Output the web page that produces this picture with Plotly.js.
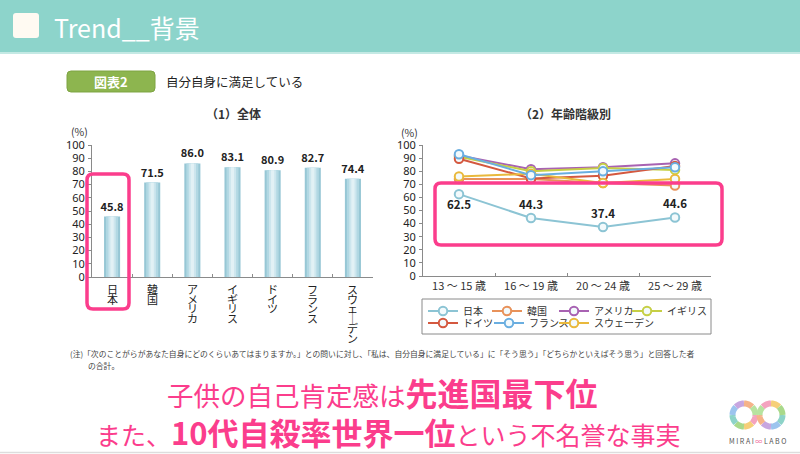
<!DOCTYPE html>
<html><head><meta charset="utf-8">
<script src="https://cdn.plot.ly/plotly-3.0.1.min.js"></script>
<style>html,body{margin:0;padding:0;background:#fff;overflow:hidden}</style>
</head><body><div id="chart" style="width:800px;height:454px"></div>
<script>
// ---- data ----
const countries = ['日本','韓国','アメリカ','イギリス','ドイツ','フランス','スウェーデン'];
const overallValues = [45.8, 71.5, 86.0, 83.1, 80.9, 82.7, 74.4];
const ageGroups = ['13 〜 15 歳','16 〜 19 歳','20 〜 24 歳','25 〜 29 歳'];
const japanByAge   = [62.5, 44.3, 37.4, 44.6];
const koreaByAge   = [74, 74, 71, 69];
const usaByAge     = [92, 81.5, 83, 86];
const ukByAge      = [91, 80, 82.5, 81];
const germanyByAge = [89.5, 74.5, 76.5, 84];
const franceByAge  = [93, 77, 80, 83];
const swedenByAge  = [76, 78, 71, 74];
const yTicks = [0,10,20,30,40,50,60,70,80,90,100];

// ---- helpers (pixel -> paper) ----
const W = 800, H = 454;
const px = x => x / W;
const py = y => 1 - y / H;
const P = (x, y) => px(x).toFixed(5) + ',' + py(y).toFixed(5);
function roundRect(x0, y0, x1, y1, r) {
  return `M${P(x0+r,y0)} L${P(x1-r,y0)} Q${P(x1,y0)} ${P(x1,y0+r)} L${P(x1,y1-r)} Q${P(x1,y1)} ${P(x1-r,y1)} L${P(x0+r,y1)} Q${P(x0,y1)} ${P(x0,y1-r)} L${P(x0,y0+r)} Q${P(x0,y0)} ${P(x0+r,y0)} Z`;
}
const FONT = '"Noto Sans CJK JP", "Noto Sans", sans-serif';
const PINK = '#fb3d8c';

// ---- traces ----
const traces = [];
// bars with a pseudo-gradient (overlaid narrower lighter bars)
const barLayers = [
  {w: 0.40, c: '#97c7d5', text: true},
  {w: 0.30, c: '#b2d8e3'},
  {w: 0.18, c: '#cde6ee'},
  {w: 0.08, c: '#e2f1f5'}
];
barLayers.forEach(l => {
  traces.push({
    type: 'bar', x: countries, y: overallValues, width: l.w,
    xaxis: 'x', yaxis: 'y',
    marker: {color: l.c, line: {width: 0}},
    showlegend: false, hoverinfo: 'skip',
    texttemplate: l.text ? '<b>%{y:.1f}</b>' : '',
    textposition: l.text ? 'outside' : 'none',
    constraintext: 'none',
    textfont: {family: FONT, size: 11, color: '#222'},
    cliponaxis: false
  });
});

const series = [
  {name: '韓国', v: koreaByAge, c: '#e8925a', legend: 'legend', lw: 22, rank: 2},
  {name: 'アメリカ', v: usaByAge, c: '#a862b2', legend: 'legend', lw: 28, rank: 3},
  {name: 'イギリス', v: ukByAge, c: '#c6cf45', legend: 'legend', lw: 40, rank: 4},
  {name: 'ドイツ', v: germanyByAge, c: '#d4583f', legend: 'legend2', lw: 21, rank: 5},
  {name: 'スウェーデン', v: swedenByAge, c: '#e9b93c', legend: 'legend2', lw: 60, rank: 7},
  {name: 'フランス', v: franceByAge, c: '#6aaee0', legend: 'legend2', lw: 20, rank: 6},
  {name: '日本', v: japanByAge, c: '#8cc4d4', legend: 'legend', lw: 19, rank: 1, labels: true}
];
series.forEach(s => {
  traces.push({
    type: 'scatter', mode: s.labels ? 'lines+markers+text' : 'lines+markers',
    x: ageGroups, y: s.v, name: s.name, xaxis: 'x2', yaxis: 'y2',
    legend: s.legend, legendrank: s.rank, legendwidth: s.lw,
    line: {color: s.c, width: 2},
    marker: {symbol: 'circle', size: 8.5, color: '#f3fafc', line: {color: s.c, width: 2}},
    text: s.labels ? s.v.map(v => '<b>' + v.toFixed(1) + '</b>') : undefined,
    textposition: s.labels ? ['bottom center','top center','top center','top center'] : undefined,
    textfont: {family: FONT, size: 11.5, color: '#222'},
    hoverinfo: 'skip', cliponaxis: false
  });
});

// ---- shapes ----
const shapes = [
  {type: 'rect', xref: 'paper', yref: 'paper', x0: 0, x1: 1, y0: py(52), y1: 1, fillcolor: '#8dd4cb', line: {width: 0}, layer: 'below'},
  {type: 'rect', xref: 'paper', yref: 'paper', x0: 0, x1: 1, y0: py(54), y1: py(52), fillcolor: '#c4e9e4', line: {width: 0}, layer: 'below'},
  {type: 'path', xref: 'paper', yref: 'paper', path: roundRect(13, 13, 39, 38, 3), fillcolor: '#fffaf2', line: {width: 0}, layer: 'below'},
  {type: 'path', xref: 'paper', yref: 'paper', path: roundRect(67, 71, 155, 92, 4), fillcolor: '#8db54f', line: {color: '#7ea443', width: 1}, layer: 'below'},
  {type: 'rect', xref: 'paper', yref: 'paper', x0: px(422), x1: px(711), y0: py(334), y1: py(299), line: {color: '#8a8a8a', width: 1}, fillcolor: 'rgba(0,0,0,0)', layer: 'below'},
  {type: 'path', xref: 'paper', yref: 'paper', path: roundRect(87, 174, 129, 309, 6), line: {color: PINK, width: 3.5}, fillcolor: 'rgba(0,0,0,0)', layer: 'above'},
  {type: 'path', xref: 'paper', yref: 'paper', path: roundRect(435, 183, 722, 245, 6), line: {color: PINK, width: 3.5}, fillcolor: 'rgba(0,0,0,0)', layer: 'above'},
  {type: 'line', xref: 'paper', yref: 'paper', x0: 0, x1: 1, y0: py(452.5), y1: py(452.5), line: {color: '#dddddd', width: 1.5}}
];
// logo loops
const pastel = ['#f4a3bf','#f6cf78','#a9d98b','#8dd3c8','#9cc4ee','#c7a6e0','#f5b389','#b7e3a0'];
[[744, 415], [771, 415]].forEach(([cx, cy], k) => {
  const r = 11.5, n = 8;
  for (let i = 0; i < n; i++) {
    let d = '';
    for (let t = 0; t <= 6; t++) {
      const a = (i + t / 6) * 2 * Math.PI / n;
      d += (t === 0 ? 'M' : ' L') + P(cx + r * Math.cos(a), cy + r * Math.sin(a));
    }
    shapes.push({type: 'path', xref: 'paper', yref: 'paper', path: d, line: {color: pastel[(i + k * 3) % 8], width: 6}});
  }
});

// ---- annotations ----
const ann = [];
const A = (o) => ann.push(Object.assign({xref: 'paper', yref: 'paper', showarrow: false, font: {family: FONT, size: 12, color: '#222'}}, o));
A({x: px(52), y: py(27), xanchor: 'left', yanchor: 'middle', text: 'Trend__背景', font: {family: FONT, size: 25, color: '#ffffff'}});
A({x: px(111), y: py(81.5), xanchor: 'center', yanchor: 'middle', text: '<b>図表2</b>', font: {family: FONT, size: 13, color: '#ffffff'}});
A({x: px(164), y: py(81.5), xanchor: 'left', yanchor: 'middle', text: '自分自身に満足している', font: {family: FONT, size: 12.5, color: '#222'}});
A({x: px(233), y: py(113), xanchor: 'center', yanchor: 'middle', text: '<b>（1）全体</b>', font: {family: FONT, size: 12, color: '#333'}});
A({x: px(565), y: py(113), xanchor: 'center', yanchor: 'middle', text: '<b>（2）年齢階級別</b>', font: {family: FONT, size: 12, color: '#333'}});
A({x: px(79), y: py(131), xanchor: 'center', yanchor: 'middle', text: '(%)', font: {family: FONT, size: 10.5, color: '#333'}});
A({x: px(409), y: py(132), xanchor: 'center', yanchor: 'middle', text: '(%)', font: {family: FONT, size: 10.5, color: '#333'}});
// vertical category labels (one character per line, through the category axis)
countries.forEach(c => {
  Array.from(c).forEach((ch, j) => {
    ann.push({xref: 'x', yref: 'paper', x: c, y: py(289 + j * 9.7), xanchor: 'center', yanchor: 'middle',
      text: ch === 'ー' ? '｜' : ch, showarrow: false, font: {family: FONT, size: 11, color: '#222'}});
  });
});
A({x: px(68), y: py(353), xanchor: 'left', yanchor: 'middle',
  text: '(注)「次のことがらがあなた自身にどのくらいあてはまりますか。」との問いに対し、「私は、自分自身に満足している」に「そう思う」「どちらかといえばそう思う」と回答した者',
  font: {family: FONT, size: 7.8, color: '#444'}});
A({x: px(86), y: py(365), xanchor: 'left', yanchor: 'middle', text: 'の合計。', font: {family: FONT, size: 7.8, color: '#444'}});
A({x: px(382), y: py(392), xanchor: 'center', yanchor: 'middle',
  text: '<span style="font-size:26.5px">子供の自己肯定感は</span><b>先進国最下位</b>',
  font: {family: FONT, size: 32, color: PINK}});
A({x: px(388), y: py(431.5), xanchor: 'center', yanchor: 'middle',
  text: '<span style="font-size:25px">また、</span><b>10代自殺率世界一位</b><span style="font-size:25px">という不名誉な事実</span>',
  font: {family: FONT, size: 31, color: PINK}});
A({x: px(757.5), y: py(441), xanchor: 'center', yanchor: 'middle',
  text: 'M I R A I <span style="color:#f06a9a">∞</span> L A B O', font: {family: FONT, size: 7, color: '#555'}});

// ---- layout ----
const axisCommon = {showgrid: false, zeroline: false, fixedrange: true, showline: true, linecolor: '#8a8a8a', linewidth: 1};
const yCommon = Object.assign({}, axisCommon, {range: [0, 100], tickvals: yTicks, ticks: 'outside', ticklen: 3, tickcolor: '#8a8a8a',
  tickfont: {family: '"Noto Sans", sans-serif', size: 11, color: '#222'}, ticklabelstandoff: 1});
const legendCommon = {orientation: 'h', xanchor: 'left', yanchor: 'middle', bgcolor: 'rgba(0,0,0,0)', borderwidth: 0,
  itemwidth: 30, tracegroupgap: 0, font: {family: FONT, size: 10, color: '#333'}, itemclick: false, itemdoubleclick: false};

const layout = {
  width: W, height: H, margin: {l: 0, r: 0, t: 0, b: 0},
  paper_bgcolor: '#ffffff', plot_bgcolor: 'rgba(0,0,0,0)',
  barmode: 'overlay', showlegend: true, hovermode: false,
  xaxis: Object.assign({}, axisCommon, {domain: [px(92), px(373)], anchor: 'y', type: 'category', range: [-0.5, 6.5],
    ticks: 'inside', ticklen: 3, tickcolor: '#8a8a8a', tickson: 'boundaries', showticklabels: false}),
  yaxis: Object.assign({}, yCommon, {domain: [py(277), py(145)], anchor: 'x'}),
  xaxis2: Object.assign({}, axisCommon, {domain: [px(423), px(711)], anchor: 'y2', type: 'category', range: [-0.5, 3.5],
    ticks: 'inside', ticklen: 3, tickcolor: '#8a8a8a', tickson: 'boundaries',
    tickfont: {family: FONT, size: 11, color: '#333'}}),
  yaxis2: Object.assign({}, yCommon, {domain: [py(276), py(145)], anchor: 'x2'}),
  legend: Object.assign({}, legendCommon, {x: px(423), y: py(311)}),
  legend2: Object.assign({}, legendCommon, {x: px(423), y: py(323)}),
  shapes: shapes, annotations: ann
};

Plotly.newPlot('chart', traces, layout, {displayModeBar: false, staticPlot: true});
</script></body></html>
